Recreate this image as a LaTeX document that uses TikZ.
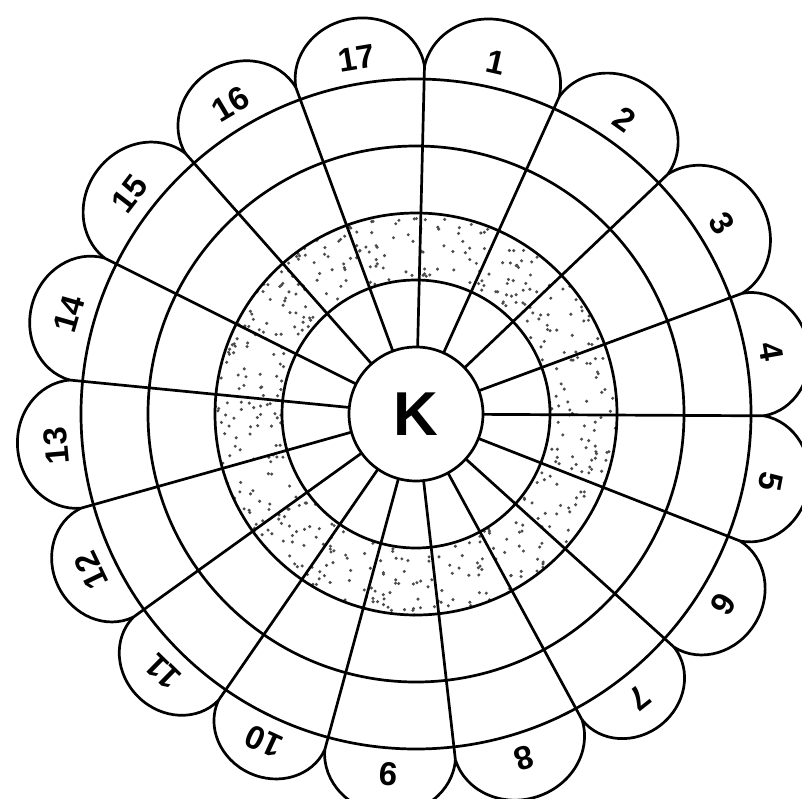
\documentclass[tikz,border=0pt]{standalone}
\usepackage{fontspec}
\setmainfont{Liberation Sans}
\usetikzlibrary{calc}

\begin{document}
\begin{tikzpicture}[x=1pt,y=1pt,line width=2.7pt,
  petal/.style={inner sep=0pt,font=\fontsize{33}{33}\selectfont\bfseries},
  hub/.style={draw,circle,minimum size=134pt,inner sep=0pt,
    font=\fontsize{62}{62}\selectfont\bfseries}]
  \fill[white] (-416,-384) rectangle (386,414);
  \useasboundingbox (-416,-384) rectangle (386,414);
  % dotted band between the 2nd and 3rd rings
  \pgfmathsetseed{17}
  \foreach \d in {1,...,520}{%
    \pgfmathsetmacro\ang{rand*180}
    \pgfmathsetmacro\rr{67*sqrt(4+rnd*5)}
    \fill[black!70] (\ang:\rr) circle (1.7);
  }
  \foreach \r in {134,201,268,335}
    \draw (0,0) circle (\r);
  \node[hub] (k) at (0,0) {K};
  % spokes, petals and numbers
  \foreach \a/\b [count=\i] in {88.6/65.7,65.7/43.6,43.6/20.3,20.3/-0.3,
      -0.3/-21.4,-21.4/-42.1,-42.1/-61.5,-61.5/-83.5,-83.5/-105.2,
      -105.2/-124.6,-124.6/-144.3,-144.3/-164.3,-164.3/-185.6,
      -185.6/-206.6,-206.6/-228.5,-228.5/-249.8,-249.8/-271.4}{%
    \pgfmathsetmacro\m{(\a+\b)/2}
    \pgfmathsetmacro\h{348*sin((\a-\b)/2)}
    \pgfmathsetmacro\c{348*cos((\a-\b)/2)}
    \coordinate (j\i) at (\b:348);
    \draw (\b:67) -- (j\i);
    \begin{scope}[rotate=\m]
      \draw (\c,-\h) arc[start angle=-90,end angle=90,x radius=0.9*\h,y radius=\h];
    \end{scope}
    \node[petal,rotate=\m-90] (n\i) at (\m:361) {\i};
  }
\end{tikzpicture}
\end{document}
